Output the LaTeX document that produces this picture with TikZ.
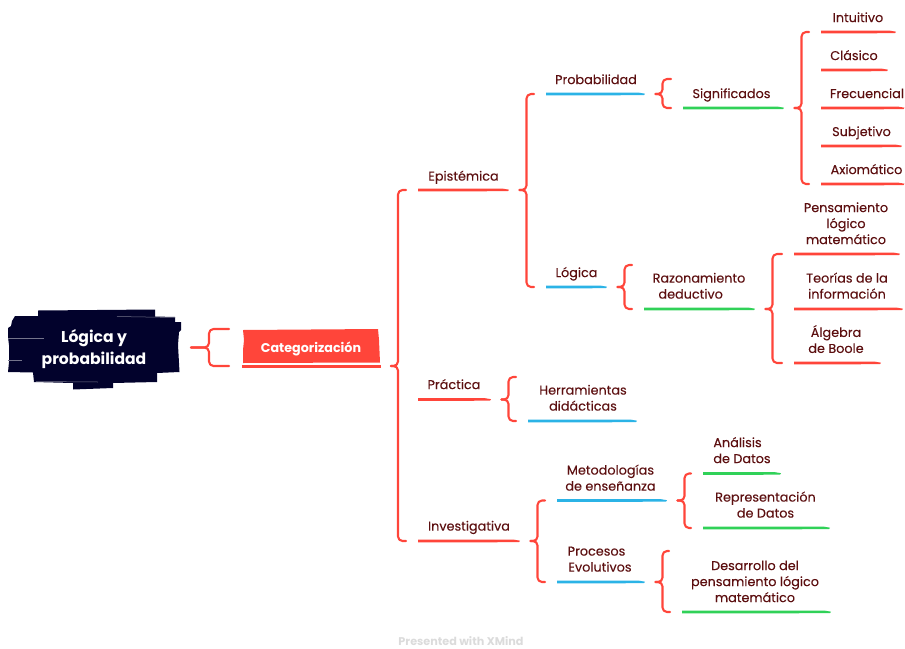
\documentclass[tikz,border=0pt]{standalone}
\usepackage{fontspec}
\setmainfont{Poppins}
\newfontfamily\labfont{Poppins}[FakeBold=0.15]
\usetikzlibrary{calc}
\definecolor{rd}{HTML}{FF453A}
\definecolor{bl}{HTML}{2BB3E6}
\definecolor{gr}{HTML}{30D158}
\definecolor{ink}{HTML}{5C0F10}
\definecolor{navy}{HTML}{02022C}
\tikzset{
  x=1pt,y=-1pt,
  brk/.style={draw=rd,line width=2.1pt,rounded corners=4.5pt,line cap=round,line join=round},
  lab/.style={text=ink,font=\labfont\fontsize{12.8}{16}\selectfont,align=center,inner sep=0pt,yshift=-1.4pt},
  streak/.style={navy!55!white,line width=.5pt},
}
\newcommand{\topic}[8]{% name x1 x2 y colour cx cy text
  \coordinate (#1 L) at (#2,#4);
  \coordinate (#1 R) at (#3,#4);
  \fill[#5] ($(#1 L)+(0,-1.5)$) -- ($(#1 R)+(-6,-1.3)$) -- ($(#1 R)+(0,-.3)$) -- ($(#1 R)+(-1,1.2)$) -- ($(#1 L)+(0,1.4)$) -- cycle;
  \node[lab] (#1) at (#6,#7) {\strut #8\strut};
}
\newcommand{\bracket}[4][7]{% optional spread; parent, top child, bottom child
  \coordinate (tip) at ($(#2)+(10.5,0)$);
  \coordinate (v) at ($(tip)+(#1,0)$);
  \coordinate (te) at ($(#3)+(-12,0)$);
  \coordinate (be) at ($(#4)+(-12,0)$);
  \draw[brk] (te) -- (te -| v) -- (v) -- (tip);
  \draw[brk] (be) -- (be -| v) -- (v) -- (tip);
}
\begin{document}
\begin{tikzpicture}
\useasboundingbox (0,0) rectangle (905,648);
% root blob
\fill[navy] (38,310.5) -- (155,309.5) -- (155,316.5) -- (175,317) -- (175,322) -- (181,322) -- (181,330) -- (179,332) -- (178,345) -- (179.5,372) -- (157,373) -- (157,382) -- (113,383) -- (113,388) -- (73,389.5) -- (73,383) -- (34,382) -- (33,372.5) -- (8,372) -- (9,362) -- (9,345) -- (8,337) -- (8,328) -- (11,326) -- (12,321) -- (15,316) -- (38,316) -- cycle;
\draw[streak] (117,316.5) -- (175,317.5);
\draw[streak] (8,338) -- (44,338);
\draw[streak] (8,360.5) -- (22,360.5);
\draw[streak] (36,381.5) -- (98,382);
\node[text=white,font=\bfseries\fontsize{15.6}{21.5}\selectfont,align=center,inner sep=0pt] (root) at (94,349) {\strut Lógica y\\probabilidad\strut};
\coordinate (root R) at (180.5,347.5);
% central topic
\fill[rd] (243,330) -- (378,329) -- (379,340) -- (380,362.5) -- (243,363) -- (243,350) -- (244,340) -- cycle;
\fill[rd] (242,365) -- (381,365) -- (381,367.5) -- (242,367.5) -- cycle;
\node[text=white,font=\bfseries\fontsize{12.7}{15}\selectfont,inner sep=0pt] (cat) at (311,349) {\strut Categorización};
\coordinate (cat T) at (241,329);
\coordinate (cat B) at (241,366);
\coordinate (cat R) at (380.5,366);
\bracket[18]{root R}{cat T}{cat B}
% level 1
\topic{epi}{418}{509}{190}{rd}{463.5}{176}{Epistémica}
\topic{pra}{418}{491}{399.5}{rd}{454}{384.5}{Práctica}
\topic{inv}{418}{520}{541}{rd}{469}{526}{Investigativa}
\bracket{cat R}{epi L}{inv L}
% level 2
\topic{pro}{546}{645}{94}{bl}{596}{79.5}{Probabilidad}
\topic{log}{546}{607}{287}{bl}{576.5}{272.5}{Lógica}
\bracket{epi R}{pro L}{log L}
\topic{sig}{683}{784}{108}{gr}{731.5}{93.5}{Significados}
\coordinate (sig T) at (683,79);
\coordinate (pro M) at (645,94);
\bracket{pro M}{sig T}{sig L}
\topic{a}{821}{896}{32}{rd}{858}{17.5}{Intuitivo}
\topic{b}{821}{888}{70}{rd}{854}{55.5}{Clásico}
\topic{c}{821}{904.5}{108}{rd}{867}{93.5}{Frecuencial}
\topic{d}{821}{902}{146}{rd}{861.5}{131.5}{Subjetivo}
\topic{e}{821}{904.5}{184}{rd}{866.5}{169.5}{Axiomático}
\bracket{sig R}{a L}{e L}
\topic{raz}{644}{755}{309}{gr}{699}{286}{Razonamiento\\\hspace*{-1.3em}deductivo}
\coordinate (raz T) at (644,265);
\bracket{log R}{raz T}{raz L}
\topic{pen}{794}{900}{254}{rd}{846}{223.5}{Pensamiento\\lógico\\matemático}
\topic{teo}{794}{903}{309}{rd}{847}{286}{Teorías de la\\información}
\topic{alg}{794}{881}{363}{rd}{836}{340}{Álgebra\\de Boole}
\bracket{raz R}{pen L}{alg L}
\topic{her}{528}{637}{421}{bl}{583}{398}{Herramientas\\didácticas}
\coordinate (her T) at (528,377);
\bracket{pra R}{her T}{her L}
\topic{met}{557}{667}{500.5}{bl}{610.5}{478}{Metodologías\\de enseñanza}
\topic{proc}{557}{645}{582}{bl}{600}{559}{\hspace*{-7pt}Procesos\\Evolutivos}
\bracket{inv R}{met L}{proc L}
\topic{ana}{703}{781}{473.5}{gr}{742}{450.5}{\hspace*{-.7em}Análisis\\de Datos}
\topic{rep}{703}{830}{528}{gr}{765.5}{505}{Representación\\de Datos}
\bracket{met R}{ana L}{rep L}
\topic{des}{682}{831}{612}{gr}{755}{581.5}{Desarrollo del\\pensamiento lógico\\matemático}
\coordinate (des T) at (681,551);
\bracket{proc R}{des T}{des L}
\node[text=black!14,font=\bfseries\fontsize{11.2}{13}\selectfont,inner sep=0pt,anchor=base] (foot) at (461,645.5) {Presented with XMind};
\end{tikzpicture}
\end{document}
